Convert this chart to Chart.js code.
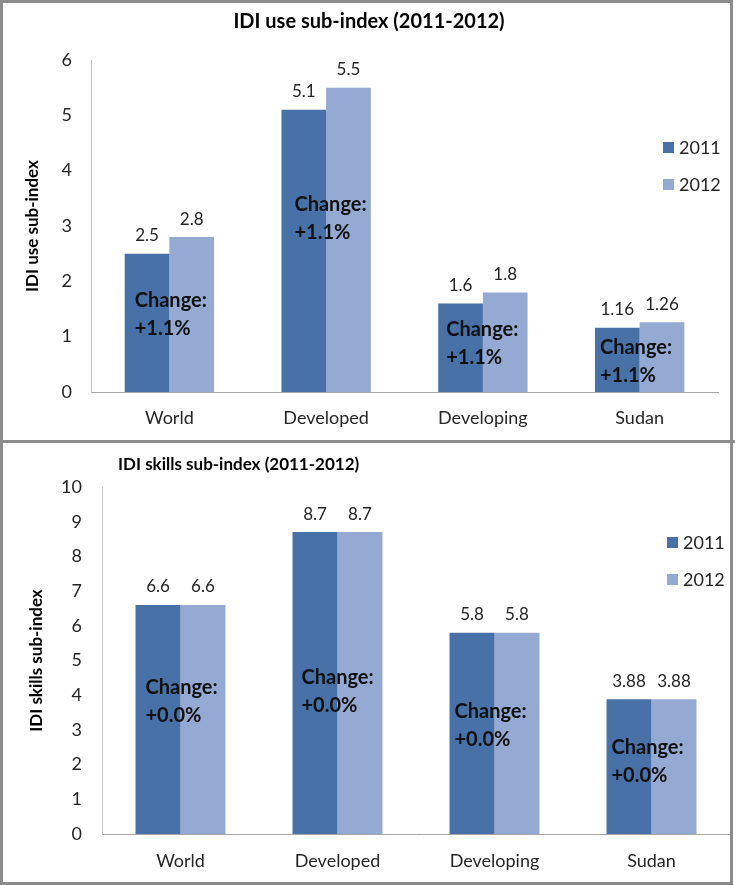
<!DOCTYPE html>
<html>
<head>
<meta charset="utf-8">
<script src="https://cdn.jsdelivr.net/npm/chart.js@4.4.1/dist/chart.umd.min.js"></script>
<style>
  body { margin: 0; background: #fff; }
  #frame { position: relative; width: 735px; height: 885px; overflow: hidden; }
  .panel { position: absolute; left: 0; }
  .edge { position: absolute; pointer-events: none; }
</style>
</head>
<body>
<div id="frame">
  <div class="panel" style="top:0"><canvas id="useChart" width="735" height="441"></canvas></div>
  <div class="panel" style="top:441px"><canvas id="skillsChart" width="735" height="444"></canvas></div>
  <div class="edge" style="left:0;top:0;width:733px;height:885px;border:3px solid #8c8c8c;box-sizing:border-box"></div>
  <div class="edge" style="left:0;top:440px;width:735px;height:3px;background:#8c8c8c"></div>
</div>
<script>
// ITU IDI sub-index values per region
const regions = ["World", "Developed", "Developing", "Sudan"];
const years = ["2011", "2012"];

const use2011 = [2.5, 5.1, 1.6, 1.16];
const use2012 = [2.8, 5.5, 1.8, 1.26];
const useChange = ["+1.1%", "+1.1%", "+1.1%", "+1.1%"];
const useTicks = [0, 1, 2, 3, 4, 5, 6];

const skills2011 = [6.6, 8.7, 5.8, 3.88];
const skills2012 = [6.6, 8.7, 5.8, 3.88];
const skillsChange = ["+0.0%", "+0.0%", "+0.0%", "+0.0%"];
const skillsTicks = [0, 1, 2, 3, 4, 5, 6, 7, 8, 9, 10];

const colors = ["#4871a8", "#94aad2"];
const FONT = "Lato, Calibri, 'Open Sans', sans-serif";

// value labels, "Change" notes, title and legend drawn on top of the bars
const barExtras = {
  id: "barExtras",
  afterDraw(chart, args, opts) {
    const ctx = chart.ctx;
    const yScale = chart.scales.y;
    ctx.save();

    ctx.fillStyle = "#262626";
    ctx.font = "17px " + FONT;
    ctx.textAlign = "center";
    ctx.textBaseline = "middle";
    chart.data.datasets.forEach((ds, di) => {
      chart.getDatasetMeta(di).data.forEach((bar, i) => {
        ctx.fillText(String(ds.data[i]), bar.x, bar.y - 18);
      });
    });

    ctx.fillStyle = "#111";
    ctx.font = "bold 20px " + FONT;
    ctx.textAlign = "left";
    const firstBars = chart.getDatasetMeta(0).data;
    opts.notes.forEach((n, i) => {
      const bar = firstBars[i];
      const left = bar.x - bar.width / 2 + n.dx;
      const cy = yScale.getPixelForValue(n.at);
      ctx.fillText("Change:", left, cy);
      ctx.fillText(opts.changes[i], left, cy + 28);
    });

    ctx.fillStyle = "#000";
    ctx.font = "bold " + opts.title.size + "px " + FONT;
    ctx.textAlign = opts.title.align;
    ctx.fillText(opts.title.text, opts.title.x, opts.title.y);

    ctx.font = "18px " + FONT;
    ctx.textAlign = "left";
    chart.data.datasets.forEach((ds, di) => {
      const cy = opts.legend.y + di * 37;
      ctx.fillStyle = ds.backgroundColor;
      ctx.fillRect(opts.legend.x, cy - 6, 11, 11);
      ctx.fillStyle = "#262626";
      ctx.fillText(ds.label, opts.legend.x + 16, cy);
    });

    ctx.restore();
  }
};

function makeChart(id, cfg) {
  return new Chart(document.getElementById(id), {
    type: "bar",
    data: {
      labels: regions,
      datasets: [
        { label: years[0], data: cfg.first, backgroundColor: colors[0] },
        { label: years[1], data: cfg.second, backgroundColor: colors[1] }
      ]
    },
    options: {
      responsive: false,
      animation: false,
      layout: { padding: { top: cfg.plotTop, right: cfg.padRight, left: 0, bottom: 0 } },
      datasets: { bar: { categoryPercentage: cfg.barShare, barPercentage: 1 } },
      plugins: {
        legend: { display: false },
        tooltip: { enabled: false },
        barExtras: { notes: cfg.notes, changes: cfg.changes, title: cfg.title, legend: cfg.legend }
      },
      scales: {
        x: {
          grid: { display: false, drawTicks: false },
          border: { display: true, color: "#a6a6a6", width: 1 },
          ticks: { color: "#262626", font: { family: FONT, size: 18 }, padding: cfg.xPad },
          afterFit: s => { s.height = cfg.axisHeight; }
        },
        y: {
          min: cfg.ticks[0],
          max: cfg.ticks[cfg.ticks.length - 1],
          grid: { display: false, drawTicks: false },
          border: { display: true, color: "#c4c4c4", width: 1 },
          ticks: {
            stepSize: 1,
            color: "#262626",
            font: { family: FONT, size: 18 },
            padding: cfg.yPad
          },
          title: {
            display: true,
            text: cfg.yTitle,
            color: "#000",
            font: { family: FONT, size: 17, weight: "bold" },
            padding: { top: cfg.yTitlePad, bottom: 0 }
          },
          afterFit: s => { s.width = cfg.axisLeft; }
        }
      }
    },
    plugins: [barExtras]
  });
}

function drawAll() {
  makeChart("useChart", {
    first: use2011,
    second: use2012,
    changes: useChange,
    ticks: useTicks,
    yTitle: "IDI use sub-index",
    plotTop: 60,
    padRight: 17,
    axisLeft: 91,
    axisHeight: 49,
    barShare: 0.57,
    xPad: 15,
    yPad: 19,
    yTitlePad: 22,
    title: { text: "IDI use sub-index (2011-2012)", size: 20, align: "center", x: 369, y: 22 },
    legend: { x: 663, y: 148 },
    notes: [
      { dx: 10, at: 1.66 },
      { dx: 13, at: 3.38 },
      { dx: 8, at: 1.12 },
      { dx: 5, at: 0.8 }
    ]
  });

  makeChart("skillsChart", {
    first: skills2011,
    second: skills2012,
    changes: skillsChange,
    ticks: skillsTicks,
    yTitle: "IDI skills sub-index",
    plotTop: 46,
    padRight: 5,
    axisLeft: 102,
    axisHeight: 51,
    barShare: 0.573,
    xPad: 16,
    yPad: 20,
    yTitlePad: 26,
    title: { text: "IDI skills sub-index (2011-2012)", size: 17, align: "left", x: 118, y: 24 },
    legend: { x: 667, y: 102 },
    notes: [
      { dx: 10, at: 4.21 },
      { dx: 9, at: 4.5 },
      { dx: 5, at: 3.52 },
      { dx: 5, at: 2.48 }
    ]
  });
}

Promise.all([
  document.fonts.load("16px Lato"),
  document.fonts.load("bold 16px Lato")
]).then(drawAll, drawAll);
</script>
</body>
</html>
